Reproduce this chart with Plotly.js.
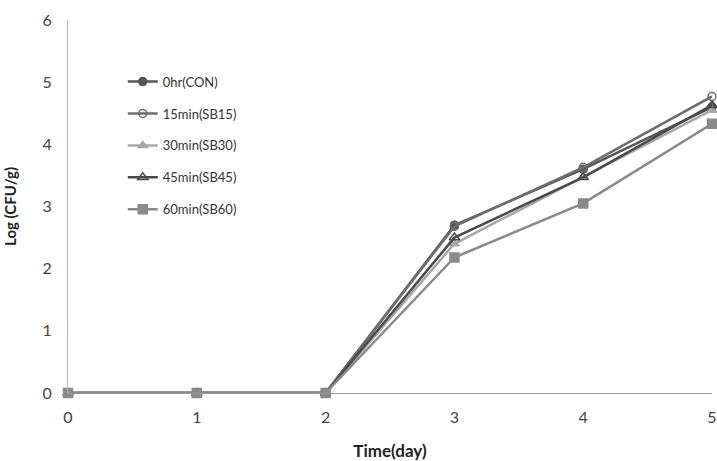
<!DOCTYPE html>
<html><head><meta charset="utf-8">
<script src="https://cdn.plot.ly/plotly-3.0.1.min.js"></script>
<style>body{margin:0;padding:0;background:#fff}#chart{width:717px;height:461px}</style>
</head><body><div id="chart"></div>
<script>
const days = [0, 1, 2, 3, 4, 5];
const seriesNames = ["0hr(CON)", "15min(SB15)", "30min(SB30)", "45min(SB45)", "60min(SB60)"];
const con  = [0, 0, 0, 2.70, 3.60, 4.60];
const sb15 = [0, 0, 0, 2.68, 3.63, 4.77];
const sb30 = [0, 0, 0, 2.40, 3.47, 4.55];
const sb45 = [0, 0, 0, 2.50, 3.47, 4.63];
const sb60 = [0, 0, 0, 2.18, 3.05, 4.33];
const xTicks = [0, 1, 2, 3, 4, 5];
const yTicks = [0, 1, 2, 3, 4, 5, 6];

const styles = [
  {color: "#555555", symbol: "circle", size: 8},
  {color: "#6e6e6e", symbol: "circle-open", size: 8},
  {color: "#a8a8a8", symbol: "triangle-up", size: 8},
  {color: "#4a4a4a", symbol: "triangle-up-open", size: 9},
  {color: "#8a8a8a", symbol: "square", size: 9}
];
const values = [con, sb15, sb30, sb45, sb60];
const traces = values.map((v, i) => ({
  x: days, y: v, name: seriesNames[i], type: "scatter", mode: "lines+markers",
  legendgroup: "g" + i,
  line: {color: styles[i].color, width: 2.5},
  marker: {color: styles[i].color, symbol: styles[i].symbol, size: styles[i].size,
           line: {color: styles[i].color, width: 1.5}},
  cliponaxis: false
}));
const layout = {
  width: 717, height: 461,
  margin: {l: 68, r: 5, t: 20, b: 68},
  paper_bgcolor: "#fff", plot_bgcolor: "#fff",
  font: {family: "Lato, 'Open Sans', sans-serif", color: "#444", size: 16},
  showlegend: true,
  legend: {x: 0.085, y: 0.875, xanchor: "left", yanchor: "top", bgcolor: "rgba(0,0,0,0)",
           font: {size: 13, color: "#333"}, tracegroupgap: 12, itemwidth: 30},
  xaxis: {range: [0, 5], tickvals: xTicks, showgrid: false, zeroline: false,
          showline: true, linecolor: "#999", linewidth: 1, ticks: "",
          ticklabelstandoff: 10,
          tickfont: {size: 16, color: "#444"},
          title: {text: "<b>Time(day)</b>", font: {size: 17, color: "#222"}, standoff: 35}},
  yaxis: {range: [0, 6], tickvals: yTicks, showgrid: false, zeroline: false,
          showline: true, linecolor: "#bbb", linewidth: 1, ticks: "",
          ticklabelstandoff: 12,
          tickfont: {size: 16, color: "#444"},
          title: {text: "<b>Log (CFU/g)</b>", font: {size: 15, color: "#222"}, standoff: 22}}
};
Plotly.newPlot("chart", traces, layout, {displayModeBar: false});
</script></body></html>
